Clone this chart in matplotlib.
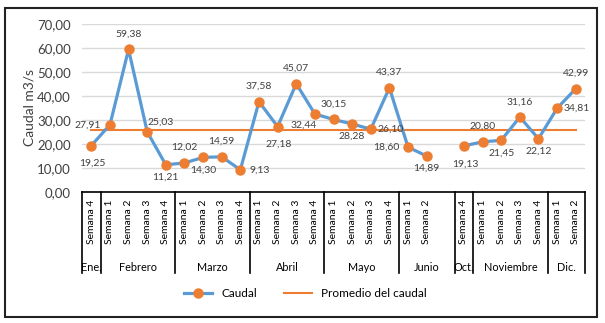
import numpy as np
import matplotlib
matplotlib.use("Agg")
import matplotlib.pyplot as plt
from matplotlib.patches import Rectangle
from matplotlib.transforms import blended_transform_factory

plt.rcParams['font.family'] = ['Lato', 'DejaVu Sans']

# data
meses = ["Ene.", "Febrero", "Marzo", "Abril", "Mayo", "Junio", "Oct.", "Noviembre", "Dic."]
semanas_por_mes = [1, 4, 4, 4, 4, 3, 1, 4, 2]
semanas = ["Semana 4",
           "Semana 1", "Semana 2", "Semana 3", "Semana 4",
           "Semana 1", "Semana 2", "Semana 3", "Semana 4",
           "Semana 1", "Semana 2", "Semana 3", "Semana 4",
           "Semana 1", "Semana 2", "Semana 3", "Semana 4",
           "Semana 1", "Semana 2", "",
           "Semana 4",
           "Semana 1", "Semana 2", "Semana 3", "Semana 4",
           "Semana 1", "Semana 2"]
caudal = [19.25,
          27.91, 59.38, 25.03, 11.21,
          12.02, 14.30, 14.59, 9.13,
          37.58, 27.18, 45.07, 32.44,
          30.15, 28.28, 26.10, 43.37,
          18.60, 14.89, np.nan,
          19.13,
          20.80, 21.45, 31.16, 22.12,
          34.81, 42.99]
promedio = 25.7

# where each data label sits relative to its point
pos = ["bb", "l", "a", "ar", "b",
       "a", "b", "a", "r",
       "a", "bb", "a", "bl",
       "a", "b", "r", "a",
       "l", "b", None,
       "bb",
       "a", "b", "a", "b",
       "r", "a"]
offsets = {"a": (0, 11), "b": (0, -9), "bb": (1, -13), "l": (-16, 0),
           "r": (14, 0), "bl": (-8, -8), "ar": (10, 7)}

blue = "#5B9BD5"
orange = "#ED7D31"

fig = plt.figure(figsize=(6.05, 3.23), dpi=100)
ax = fig.add_axes([0.1355, 0.4065, 0.8315, 0.5192])

x = np.arange(len(caudal))
ax.plot(x, caudal, color=blue, lw=2.3, marker="o", ms=6.5,
        mfc=orange, mec=orange, label="Caudal", zorder=3)
ax.plot(x, [promedio] * len(x), color=orange, lw=1.5,
        label="Promedio del caudal", zorder=2)

for xi, v, p in zip(x, caudal, pos):
    if p is None or np.isnan(v):
        continue
    dx, dy = offsets[p]
    ax.annotate(f"{v:.2f}".replace(".", ","), (xi, v), xytext=(dx, dy),
                textcoords="offset points", ha="center", va="center",
                fontsize=7.5, color="#404040", zorder=4)

ax.set_xlim(-0.5, len(x) - 0.5)
ax.set_ylim(0, 70)
ax.set_yticks(np.arange(0, 71, 10))
ax.set_yticklabels([f"{t:.2f}".replace(".", ",") for t in np.arange(0, 71, 10)],
                   fontsize=9.5, color="#404040")
ax.tick_params(axis="y", length=0, pad=8)
ax.set_xticks([])
ax.grid(axis="y", color="#D9D9D9", lw=1)
ax.set_axisbelow(True)
for s in ["top", "right", "left"]:
    ax.spines[s].set_visible(False)
ax.spines["bottom"].set_color("black")
ax.spines["bottom"].set_linewidth(1.2)
ax.set_ylabel("Caudal m3/s", fontsize=10, color="#404040", labelpad=1)

# multi-level category axis
tr = blended_transform_factory(ax.transData, ax.transAxes)
for xi, s in zip(x, semanas):
    ax.text(xi, -0.05, s, rotation=90, ha="center", va="top",
            fontsize=7.5, color="black", transform=tr)
edges = np.concatenate([[0], np.cumsum(semanas_por_mes)]) - 0.5
for e in edges:
    ax.plot([e, e], [0, -0.485], color="black", lw=1.2, transform=tr,
            clip_on=False)
for m, a, b in zip(meses, edges[:-1], edges[1:]):
    ax.text((a + b) / 2, -0.45, m, ha="center", va="center",
            fontsize=7.8, color="black", transform=tr)

fig.legend(loc="center", bbox_to_anchor=(0.505, 0.09), ncol=2, frameon=False,
           fontsize=8.5, handlelength=2.4, columnspacing=2.2)

fig.patches.append(Rectangle((0.009, 0.02), 0.978, 0.955, transform=fig.transFigure,
                             fill=False, ec="#222222", lw=1.5))

fig.savefig("out.png", dpi=100)
